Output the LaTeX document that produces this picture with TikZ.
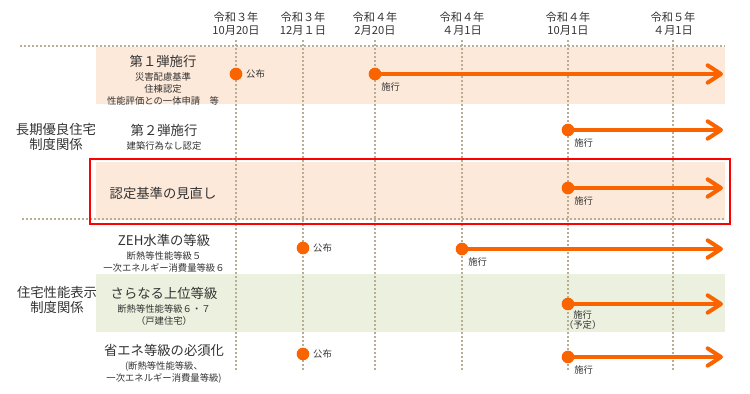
\documentclass[tikz,border=0pt]{standalone}
\usepackage{fontspec}
\setmainfont{Noto Sans CJK JP}
\usetikzlibrary{arrows.meta,positioning}
\definecolor{roadorange}{HTML}{F96300}
\definecolor{bandpeach}{HTML}{FDE9D9}
\definecolor{bandgreen}{HTML}{EBF1DE}
\definecolor{gridtan}{HTML}{B9AD93}
\definecolor{inkgray}{HTML}{333333}
\tikzset{
    datelabel/.style={align=center, font=\fontsize{8.4}{9.8}\selectfont, text=inkgray, inner sep=0pt},
    itemtitle/.style={font=\fontsize{10}{12}\selectfont, text=inkgray, inner sep=0pt},
    itemsub/.style={align=center, font=\fontsize{7}{8.8}\selectfont, text=inkgray, inner sep=0pt},
    grouplabel/.style={align=center, font=\fontsize{10}{11.8}\selectfont, text=inkgray, inner sep=0pt},
    milestone/.style={circle, fill=roadorange, minimum size=9.5pt, inner sep=0pt},
    eventlabel/.style={align=center, font=\fontsize{7}{7.5}\selectfont, text=inkgray, inner sep=0pt},
    gridline/.style={draw=gridtan, line width=0.8pt, dash pattern=on 1.5pt off 1.5pt},
    timeline/.style={draw=roadorange, line width=3pt, line cap=round, -{Straight Barb[length=10pt, width=13pt, line cap=round, round]}}
}

\begin{document}
\begin{tikzpicture}[x=0.75pt, y=-0.75pt]
    \useasboundingbox (0,0) rectangle (750,393);

    % bands
    \fill[bandpeach] (96,47) rectangle (725,104);
    \fill[bandpeach] (96,162) rectangle (725,220);
    \fill[bandgreen] (96,274) rectangle (725,332);

    % dates
    \node[datelabel] (h1) at (236,23.5) {令和３年\\10月20日};
    \node[datelabel] (h2) at (303,23.5) {令和３年\\12月１日};
    \node[datelabel] (h3) at (375,23.5) {令和４年\\2月20日};
    \node[datelabel] (h4) at (462,23.5) {令和４年\\４月1日};
    \node[datelabel] (h5) at (568,23.5) {令和４年\\10月1日};
    \node[datelabel] (h6) at (673,23.5) {令和５年\\４月1日};

    \coordinate (gtop) at (0,40);
    \coordinate (gbot) at (0,372);
    \draw[gridline] (h1 |- gtop) -- (h1 |- gbot);
    \draw[gridline] (h2 |- gtop) -- (h2 |- gbot);
    \draw[gridline] (h3 |- gtop) -- (h3 |- gbot);
    \draw[gridline] (h4 |- gtop) -- (h4 |- gbot);
    \draw[gridline] (h5 |- gtop) -- (h5 |- gbot);
    \draw[gridline] (h6 |- gtop) -- (h6 |- gbot);
    \draw[gridline] (20,46) -- (725,46);
    \draw[gridline] (22,219) -- (725,219);

    \draw[red, line width=1.6pt] (90,159) rectangle (730,224);

    % groups
    \node[grouplabel] (g1) at (56,137) {長期優良住宅\\制度関係};
    \node[grouplabel] (g2) at (57,300) {住宅性能表示\\制度関係};

    % items
    \node[itemtitle] (t1) at (163,61) {第１弾施行};
    \node[itemsub, below=4pt of t1] (s1) {災害配慮基準\\住棟認定\\性能評価との一体申請　等};
    \node[itemtitle] (t2) at (164,130) {第２弾施行};
    \node[itemsub, below=3.5pt of t2] (s2) {建築行為なし認定};
    \node[itemtitle] (t3) at (163,193) {認定基準の見直し};
    \node[itemtitle] (t4) at (164,240) {ZEH水準の等級};
    \node[itemsub, below=4pt of t4] (s4) {断熱等性能等級５\\一次エネルギー消費量等級６};
    \node[itemtitle] (t5) at (164,293) {さらなる上位等級};
    \node[itemsub, below=3.5pt of t5] (s5) {断熱等性能等級６・７\\（戸建住宅）};
    \node[itemtitle] (t6) at (164,350) {省エネ等級の必須化};
    \node[itemsub, below=3.5pt of t6] (s6) {(断熱等性能等級、\\一次エネルギー消費量等級)};

    % milestones
    \node[milestone] (p1) at (236,74) {};
    \node[milestone] (p4) at (303,248) {};
    \node[milestone] (p6) at (303,354) {};
    \node[eventlabel, right=2.5pt of p1] (k1) {公布};
    \node[eventlabel, right=2.5pt of p4] (k4) {公布};
    \node[eventlabel, right=2.5pt of p6] (k6) {公布};

    \node[milestone] (d1) at (375,74) {};
    \node[milestone] (d2) at (568,130) {};
    \node[milestone] (d3) at (568,188) {};
    \node[milestone] (d4) at (462,249) {};
    \node[milestone] (d5) at (568,304) {};
    \node[milestone] (d6) at (568,357) {};
    \node[eventlabel, below right=2.5pt and 1pt of d1] (e1) {施行};
    \node[eventlabel, below right=2.5pt and 1pt of d2] (e2) {施行};
    \node[eventlabel, below right=2.5pt and 1pt of d3] (e3) {施行};
    \node[eventlabel, below right=2.5pt and 1pt of d4] (e4) {施行};
    \node[eventlabel, below right=1.5pt and -6.7pt of d5] (e5) {施行\\（予定）};
    \node[eventlabel, below right=2.5pt and 1pt of d6] (e6) {施行};

    \coordinate (a1) at (723,74);
    \coordinate (a2) at (723,130);
    \coordinate (a3) at (723,188);
    \coordinate (a4) at (723,249);
    \coordinate (a5) at (723,304);
    \coordinate (a6) at (723,357);
    \draw[timeline] (d1) -- (a1);
    \draw[timeline] (d2) -- (a2);
    \draw[timeline] (d3) -- (a3);
    \draw[timeline] (d4) -- (a4);
    \draw[timeline] (d5) -- (a5);
    \draw[timeline] (d6) -- (a6);
\end{tikzpicture}
\end{document}
